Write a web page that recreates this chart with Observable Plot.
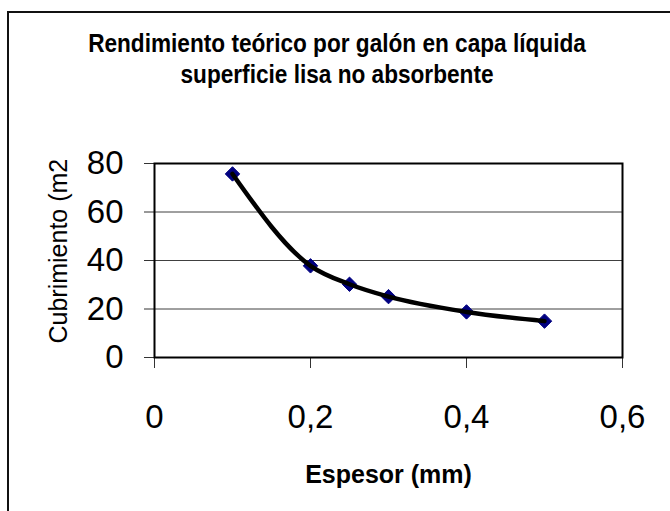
<!DOCTYPE html>
<html>
<head>
<meta charset="utf-8">
<script src="https://cdn.jsdelivr.net/npm/d3@7"></script>
<script src="https://cdn.jsdelivr.net/npm/@observablehq/plot@0.6"></script>
<style>
  html, body { margin: 0; padding: 0; background: #fff; }
  #page { position: relative; width: 670px; height: 511px; overflow: hidden; background: #fff; }
  #frame { position: absolute; left: 7px; top: 11px; width: 700px; height: 540px; border-left: 2px solid #111; border-top: 2px solid #111; }
  #title { position: absolute; left: 0; top: 28px; width: 674px; text-align: center;
    font-family: "Liberation Sans", Arial, sans-serif; font-weight: bold;
    font-size: 26px; line-height: 30.5px; color: #000; white-space: nowrap;
    transform: scaleX(0.87); transform-origin: 337px 0; }
  #chart { position: absolute; left: 0; top: 100px; }
</style>
</head>
<body>
<div id="page">
  <div id="frame"></div>
  <div id="title">Rendimiento teórico por galón en capa líquida<br>superficie lisa no absorbente</div>
  <div id="chart"></div>
</div>
<script>
const espesor = [0.1, 0.2, 0.25, 0.3, 0.4, 0.5];
const cubrimiento = [75.7, 37.8, 30.2, 25.1, 18.8, 15.0];
const xTicks = [0, 0.2, 0.4, 0.6];
const yTicks = [0, 20, 40, 60, 80];
const xLabel = "Espesor (mm)";
const yLabel = "Cubrimiento (m2";

const data = espesor.map((x, i) => ({x, y: cubrimiento[i]}));
const fmt = d => String(d).replace(".", ",");

const chart = Plot.plot({
  width: 670,
  height: 411,
  marginLeft: 154,
  marginRight: 48,
  marginTop: 63,
  marginBottom: 154,
  style: {fontFamily: "'Liberation Sans', Arial, sans-serif", color: "#000", background: "transparent", overflow: "visible"},
  x: {domain: [0, 0.6]},
  y: {domain: [0, 80]},
  marks: [
    Plot.gridY(yTicks.filter(d => d > 0), {stroke: "#000", strokeOpacity: 0.75, strokeWidth: 1}),
    Plot.axisY(yTicks, {tickSize: 10, tickPadding: 21, fontSize: 33, label: null, stroke: "#333"}),
    Plot.axisX(xTicks, {tickSize: 11, tickPadding: 36, fontSize: 33, label: null, tickFormat: fmt, stroke: "#333"}),
    Plot.frame({stroke: "#000", strokeWidth: 2}),
    Plot.dot(data, {x: "x", y: "y", symbol: "diamond2", r: 6.5, fill: "#000080", stroke: "#000080", strokeWidth: 1}),
    Plot.line(data, {x: "x", y: "y", curve: "monotone-x", stroke: "#000", strokeWidth: 4.5}),
    Plot.text([xLabel], {frameAnchor: "bottom", dy: 117, fontSize: 25, fontWeight: "bold", lineAnchor: "middle"}),
    Plot.text([yLabel], {frameAnchor: "left", textAnchor: "start", dx: -96, dy: 83, rotate: -90, fontSize: 25, lineAnchor: "middle"})
  ]
});
document.getElementById("chart").appendChild(chart);
</script>
</body>
</html>
